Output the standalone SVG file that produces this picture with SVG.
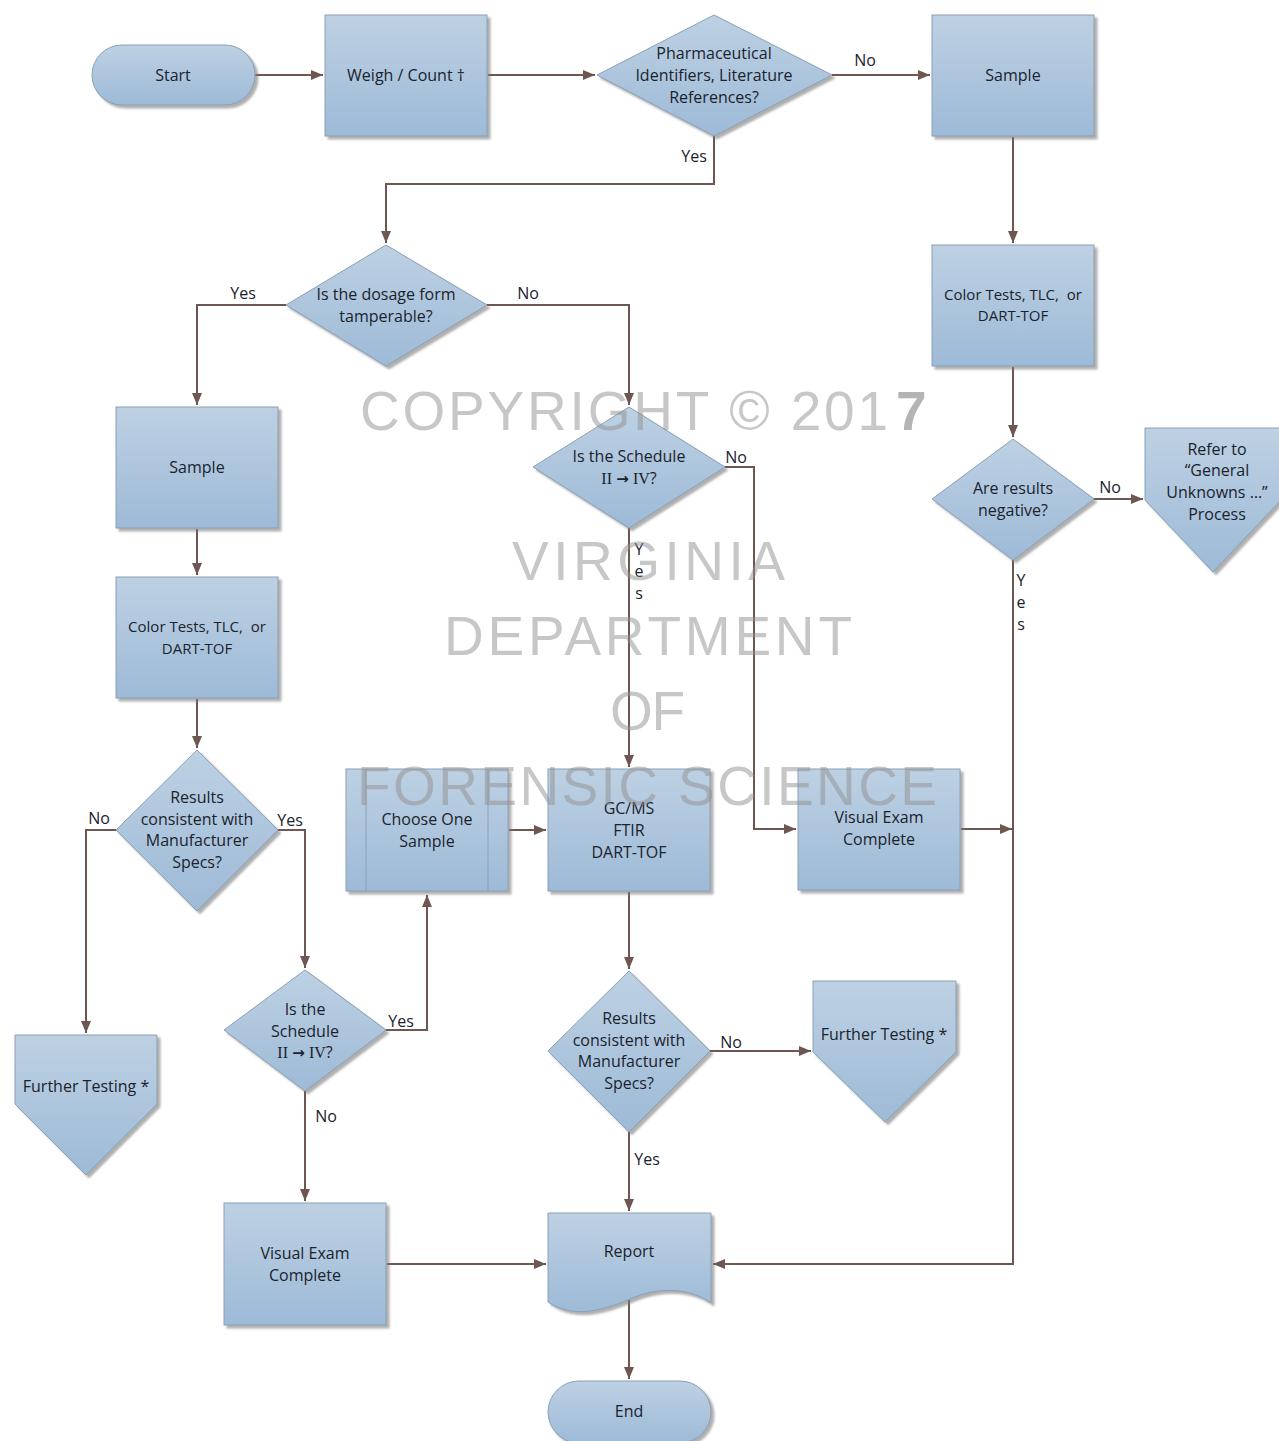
<svg xmlns="http://www.w3.org/2000/svg" width="1279" height="1441" viewBox="0 0 1279 1441">
<defs>
<linearGradient id="g" x1="0" y1="0" x2="0" y2="1">
<stop offset="0" stop-color="#bed1e3"/>
<stop offset="1" stop-color="#9dbad7"/>
</linearGradient>
<filter id="sh" x="-10%" y="-10%" width="130%" height="130%">
<feDropShadow dx="3" dy="3" stdDeviation="1" flood-color="#7a7a7a" flood-opacity="0.6"/>
</filter>
<marker id="ah" viewBox="0 0 12 10" refX="12" refY="5" markerWidth="12" markerHeight="10" markerUnits="userSpaceOnUse" orient="auto">
<path d="M0,0 L12,5 L0,10 Z" fill="#6e5651"/>
</marker>
</defs>
<style>
.s{fill:url(#g);stroke:#8aa0b6;stroke-width:1;filter:url(#sh)}
.t{font-family:"Open Sans","Noto Sans",sans-serif;font-size:16px;fill:#1a232d;text-anchor:middle}
.ts{font-size:15px}
.l{font-family:"Open Sans","Noto Sans",sans-serif;font-size:16px;fill:#1a232d;text-anchor:middle}
.c path{fill:none;stroke:#6e5651;stroke-width:2}
.a{marker-end:url(#ah)}
.rn{font-family:"Liberation Serif",serif}
.ar{font-family:"DejaVu Sans",sans-serif;font-weight:bold;font-size:15px}
.wm{font-family:"Liberation Sans",Arial,sans-serif;font-size:55px;fill:#8f8f8f;fill-opacity:0.5}
</style>
<rect width="1279" height="1441" fill="#ffffff"/>

<g id="connectors" class="c">
<path class="a" d="M255,75 H323"/>
<path class="a" d="M488,75 H595"/>
<path class="a" d="M832,75 H930"/>
<path class="a" d="M714,136 V184 H386 V243"/>
<path class="a" d="M1013,137 V243"/>
<path class="a" d="M1013,367 V437"/>
<path class="a" d="M1094,499 H1143"/>
<path class="a" d="M1013,560 V1264 H713"/>
<path class="a" d="M961,829 H1012"/>
<path class="a" d="M286,305 H197 V405"/>
<path class="a" d="M487,305 H629 V405"/>
<path class="a" d="M197,529 V575"/>
<path class="a" d="M197,699 V748"/>
<path class="a" d="M116,830 H86 V1033"/>
<path class="a" d="M278,830 H305 V968"/>
<path class="a" d="M386,1030 H427 V895"/>
<path class="a" d="M305,1091 V1201"/>
<path class="a" d="M387,1264 H546"/>
<path class="a" d="M509,830 H546"/>
<path class="a" d="M629,528 V767"/>
<path class="a" d="M725,467 H754 V829 H796"/>
<path class="a" d="M629,892 V969"/>
<path class="a" d="M710,1051 H811"/>
<path class="a" d="M629,1132 V1211"/>
<path class="a" d="M629,1300 V1379"/>
<g id="labels">
<text class="l" x="865" y="66">No</text>
<text class="l" x="694" y="162">Yes</text>
<text class="l" x="1110" y="493">No</text>
<text class="l" x="1021" y="586">Y</text>
<text class="l" x="1021" y="608">e</text>
<text class="l" x="1021" y="630">s</text>
<text class="l" x="243" y="299">Yes</text>
<text class="l" x="528" y="299">No</text>
<text class="l" x="99" y="824">No</text>
<text class="l" x="290" y="826">Yes</text>
<text class="l" x="401" y="1027">Yes</text>
<text class="l" x="326" y="1122">No</text>
<text class="l" x="639" y="555">Y</text>
<text class="l" x="639" y="577">e</text>
<text class="l" x="639" y="599">s</text>
<text class="l" x="736" y="463">No</text>
<text class="l" x="731" y="1048">No</text>
<text class="l" x="647" y="1165">Yes</text>
</g>
</g>

<g id="start"><rect class="s" x="92" y="45" width="163" height="60" rx="30"/><text class="t" x="173" y="81">Start</text></g>
<g id="weigh"><rect class="s" x="325" y="15" width="162" height="121"/><text class="t" x="406" y="81">Weigh / Count †</text></g>
<g id="pharm"><polygon class="s" points="597,75 714,15 832,75 714,136"/>
<text class="t" x="714" y="59">Pharmaceutical</text><text class="t" x="714" y="81">Identifiers, Literature</text><text class="t" x="714" y="103">References?</text></g>
<g id="sample-r"><rect class="s" x="932" y="15" width="162" height="121"/><text class="t" x="1013" y="81">Sample</text></g>
<g id="color-r"><rect class="s" x="932" y="245" width="162" height="121"/><text class="t ts" x="1013" y="300">Color Tests, TLC,&#160; or</text><text class="t ts" x="1013" y="321">DART-TOF</text></g>
<g id="negative"><polygon class="s" points="932,499 1013,439 1094,499 1013,560"/><text class="t" x="1013" y="494">Are results</text><text class="t" x="1013" y="516">negative?</text></g>
<g id="refer"><polygon class="s" points="1145,428 1281,428 1281,500 1213,572 1145,500"/>
<text class="t" x="1217" y="455">Refer to</text><text class="t" x="1217" y="476">“General</text><text class="t" x="1217" y="498">Unknowns …”</text><text class="t" x="1217" y="520">Process</text></g>
<g id="dosage"><polygon class="s" points="286,305 386,245 487,305 386,366"/><text class="t" x="386" y="300">Is the dosage form</text><text class="t" x="386" y="322">tamperable?</text></g>
<g id="sample-l"><rect class="s" x="116" y="407" width="162" height="121"/><text class="t" x="197" y="473">Sample</text></g>
<g id="color-l"><rect class="s" x="116" y="577" width="162" height="121"/><text class="t ts" x="197" y="632">Color Tests, TLC,&#160; or</text><text class="t ts" x="197" y="654">DART-TOF</text></g>
<g id="results-l"><polygon class="s" points="116,830 197,750 278,830 197,911"/>
<text class="t" x="197" y="803">Results</text><text class="t" x="197" y="825">consistent with</text><text class="t" x="197" y="846">Manufacturer</text><text class="t" x="197" y="868">Specs?</text></g>
<g id="further-l"><polygon class="s" points="15,1035 157,1035 157,1104 86,1175 15,1104"/><text class="t" x="86" y="1092">Further Testing *</text></g>
<g id="schedule-l"><polygon class="s" points="224,1030 305,970 386,1030 305,1091"/>
<text class="t" x="305" y="1015">Is the</text><text class="t" x="305" y="1037">Schedule</text><text class="t" x="305" y="1058"><tspan class="rn">II</tspan> <tspan class="ar">→</tspan> <tspan class="rn">IV</tspan>?</text></g>
<g id="visual-l"><rect class="s" x="224" y="1203" width="162" height="122"/><text class="t" x="305" y="1259">Visual Exam</text><text class="t" x="305" y="1281">Complete</text></g>
<g id="choose"><rect class="s" x="346" y="769" width="162" height="122"/>
<line x1="366" y1="769" x2="366" y2="891" stroke="#8aa0b6" stroke-width="1"/><line x1="488" y1="769" x2="488" y2="891" stroke="#8aa0b6" stroke-width="1"/>
<text class="t" x="427" y="825">Choose One</text><text class="t" x="427" y="847">Sample</text></g>
<g id="gcms"><rect class="s" x="548" y="769" width="162" height="122"/>
<text class="t" x="629" y="814">GC/MS</text><text class="t" x="629" y="836">FTIR</text><text class="t" x="629" y="858">DART-TOF</text></g>
<g id="schedule-m"><polygon class="s" points="533,467 629,407 725,467 629,528"/>
<text class="t" x="629" y="462">Is the Schedule</text><text class="t" x="629" y="484"><tspan class="rn">II</tspan> <tspan class="ar">→</tspan> <tspan class="rn">IV</tspan>?</text></g>
<g id="visual-m"><rect class="s" x="798" y="769" width="162" height="121"/><text class="t" x="879" y="823">Visual Exam</text><text class="t" x="879" y="845">Complete</text></g>
<g id="results-m"><polygon class="s" points="548,1051 629,971 710,1051 629,1132"/>
<text class="t" x="629" y="1024">Results</text><text class="t" x="629" y="1046">consistent with</text><text class="t" x="629" y="1067">Manufacturer</text><text class="t" x="629" y="1089">Specs?</text></g>
<g id="further-r"><polygon class="s" points="813,981 956,981 956,1052 885,1122 813,1052"/><text class="t" x="884" y="1040">Further Testing *</text></g>
<g id="report"><path class="s" d="M548,1213 H711 V1303 C690,1288 660,1286 630,1299 C600,1312 572,1318 548,1302 Z"/><text class="t" x="629" y="1257">Report</text></g>
<g id="end"><rect class="s" x="548" y="1381" width="163" height="62" rx="31"/><text class="t" x="629" y="1417">End</text></g>

<g id="watermark">
<text class="wm" x="360" y="430" textLength="528" lengthAdjust="spacing">COPYRIGHT © 201</text>
<text class="wm" x="896" y="430" style="font-weight:bold;fill:#6a6a6a">7</text>
<text class="wm" x="512" y="580" textLength="273" lengthAdjust="spacing">VIRGINIA</text>
<text class="wm" x="444" y="655" textLength="408" lengthAdjust="spacing">DEPARTMENT</text>
<text class="wm" x="610" y="730" textLength="75" lengthAdjust="spacing">OF</text>
<text class="wm" x="357" y="805" textLength="580" lengthAdjust="spacing">FORENSIC SCIENCE</text>
</g>
</svg>
